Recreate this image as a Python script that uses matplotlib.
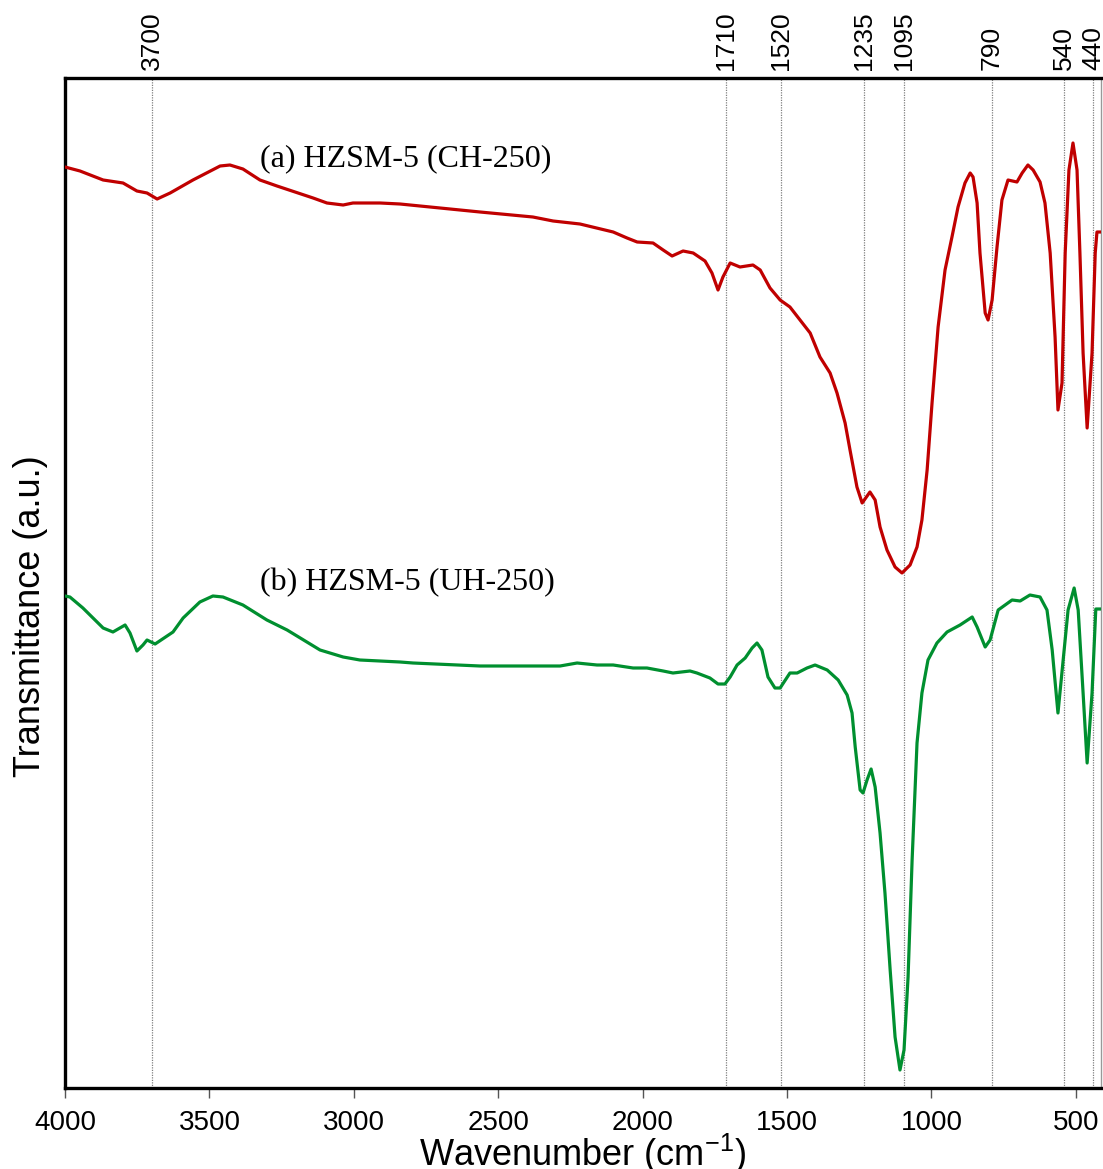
import matplotlib
matplotlib.use("Agg")
import matplotlib.pyplot as plt
import matplotlib.transforms as mtransforms

# ---- data (wavenumber in cm-1, transmittance in a.u.) ----
wn_a = [4000, 3948, 3868, 3799, 3751, 3716, 3681, 3636, 3557, 3463, 3429, 3384, 3325, 3266,
        3141, 3093, 3037, 3003, 2909, 2840, 2736, 2563, 2380, 2310, 2217, 2102, 2054, 2019,
        1964, 1929, 1898, 1860, 1825, 1784, 1760, 1739, 1722, 1697, 1663, 1618, 1593, 1559,
        1524, 1490, 1455, 1420, 1386, 1351, 1327, 1299, 1282, 1258, 1240, 1213, 1195, 1178,
        1154, 1126, 1102, 1074, 1050, 1033, 1015, 998, 977, 953, 929, 908, 884, 866, 856,
        842, 832, 814, 804, 790, 773, 756, 735, 704, 686, 666, 648, 624, 607, 589, 572, 562,
        548, 537, 524, 510, 496, 486, 475, 461, 444, 433, 427, 409]
t_a = [92.1, 91.7, 90.8, 90.5, 89.7, 89.5, 88.9, 89.5, 90.8, 92.2, 92.3, 91.9, 90.8, 90.2,
       89.0, 88.5, 88.3, 88.5, 88.5, 88.4, 88.1, 87.6, 87.1, 86.7, 86.4, 85.6, 85.0, 84.6,
       84.5, 83.8, 83.2, 83.7, 83.5, 82.7, 81.5, 79.8, 81.1, 82.5, 82.1, 82.3, 81.8, 80.0,
       78.8, 78.1, 76.8, 75.5, 73.1, 71.5, 69.5, 66.5, 63.8, 60.1, 58.5, 59.6, 58.8, 56.1,
       53.8, 52.1, 51.5, 52.3, 54.1, 56.8, 61.8, 68.5, 76.1, 81.8, 85.1, 88.1, 90.5, 91.5, 91.1,
       88.5, 83.5, 77.5, 76.8, 78.8, 84.1, 88.8, 90.8, 90.6, 91.5, 92.3, 91.8, 90.6, 88.5, 83.5, 75.1, 67.8,
       70.5, 83.5, 91.8, 94.5, 91.8, 83.5, 73.5, 66.0, 73.5, 83.5, 85.6, 85.6]

wn_b = [4000, 3983, 3938, 3868, 3834, 3810, 3792, 3775, 3751, 3730, 3716, 3688, 3626, 3591,
        3533, 3488, 3453, 3384, 3301, 3231, 3117, 3037, 2979, 2840, 2795, 2563, 2286, 2227,
        2158, 2102, 2033, 1985, 1929, 1895, 1836, 1812, 1767, 1739, 1715, 1697, 1673, 1645,
        1621, 1604, 1587, 1566, 1542, 1524, 1490, 1465, 1431, 1403, 1361, 1323, 1292, 1275,
        1264, 1247, 1237, 1223, 1209, 1195, 1178, 1161, 1143, 1126, 1109, 1095, 1081, 1067,
        1050, 1033, 1012, 981, 946, 901, 859, 842, 814, 797, 769, 721, 693, 659, 624, 600,
        582, 562, 544, 527, 506, 492, 475, 461, 444, 431, 413]
t_b = [49.2, 49.1, 48.0, 46.0, 45.6, 46.0, 46.3, 45.5, 43.7, 44.3, 44.8, 44.4, 45.6, 47.0,
       48.6, 49.2, 49.1, 48.3, 46.8, 45.8, 43.8, 43.1, 42.8, 42.6, 42.5, 42.2, 42.2, 42.5,
       42.3, 42.3, 42.0, 42.0, 41.7, 41.5, 41.7, 41.5, 41.0, 40.4, 40.4, 41.1, 42.3, 43.0,
       44.0, 44.5, 43.8, 41.1, 40.0, 40.0, 41.5, 41.5, 42.0, 42.3, 41.8, 40.8, 39.3, 37.5,
       34.1, 29.8, 29.5, 30.8, 31.9, 30.1, 25.5, 19.5, 11.8, 5.1, 1.8, 3.8, 11.1, 22.8,
       34.5, 39.5, 42.8, 44.5, 45.6, 46.3, 47.1, 46.1, 44.1, 44.8, 47.8, 48.8, 48.7, 49.3, 49.1, 47.8,
       43.8, 37.5, 42.8, 47.8, 50.0, 47.8, 39.5, 32.5, 39.5, 47.9, 47.9]

peak_marks = [3700, 1710, 1520, 1235, 1095, 790, 540, 440]
x_ticks = [4000, 3500, 3000, 2500, 2000, 1500, 1000, 500]
label_a = "(a) HZSM-5 (CH-250)"
label_b = "(b) HZSM-5 (UH-250)"

plt.rcParams['font.family'] = ['Liberation Sans', 'DejaVu Sans']
plt.rcParams['mathtext.fontset'] = 'custom'
plt.rcParams['mathtext.rm'] = 'Liberation Sans'
plt.rcParams['mathtext.it'] = 'Liberation Sans'
plt.rcParams['mathtext.default'] = 'regular'

fig = plt.figure(figsize=(11.03, 11.69), dpi=100)
ax = fig.add_axes([65/1103, 1-1088/1169, (1101-65)/1103, (1088-78)/1169])

for w in peak_marks:
    ax.axvline(w, color='#808080', lw=0.9, ls=(0, (1, 1)), zorder=1)

ax.plot(wn_a, t_a, color='#C00000', lw=2.3, zorder=3)
ax.plot(wn_b, t_b, color='#008F2F', lw=2.3, zorder=3)

ax.set_xlim(4000, 413)
ax.set_ylim(0, 101)
ax.set_xticks(x_ticks)
ax.set_xticklabels([str(v) for v in x_ticks], fontsize=20)
ax.set_yticks([])
ax.tick_params(axis='x', direction='out', length=7, width=1, color='#555555', pad=9)

trans = mtransforms.blended_transform_factory(ax.transData, ax.transAxes)
for w in peak_marks:
    ax.text(w, 1.008, str(w), transform=trans, rotation=90, ha='center', va='bottom',
            fontsize=19)

ax.set_xlabel("Wavenumber (cm$^{-1}$)", fontsize=26, labelpad=-3)
ax.set_ylabel("Transmittance (a.u.)", fontsize=26)
ax.yaxis.set_label_coords(-0.016, 0.467)

ax.text(3325, 92.9, label_a, family=['Liberation Serif', 'DejaVu Serif'], fontsize=23,
        ha='left', va='center')
ax.text(3325, 50.5, label_b, family=['Liberation Serif', 'DejaVu Serif'], fontsize=23,
        ha='left', va='center')

for s in ['left', 'bottom', 'top']:
    ax.spines[s].set_linewidth(2.4)
    ax.spines[s].set_color('black')
ax.spines['right'].set_linewidth(1.0)
ax.spines['right'].set_color('#999999')

fig.savefig("out.png", dpi=100)
